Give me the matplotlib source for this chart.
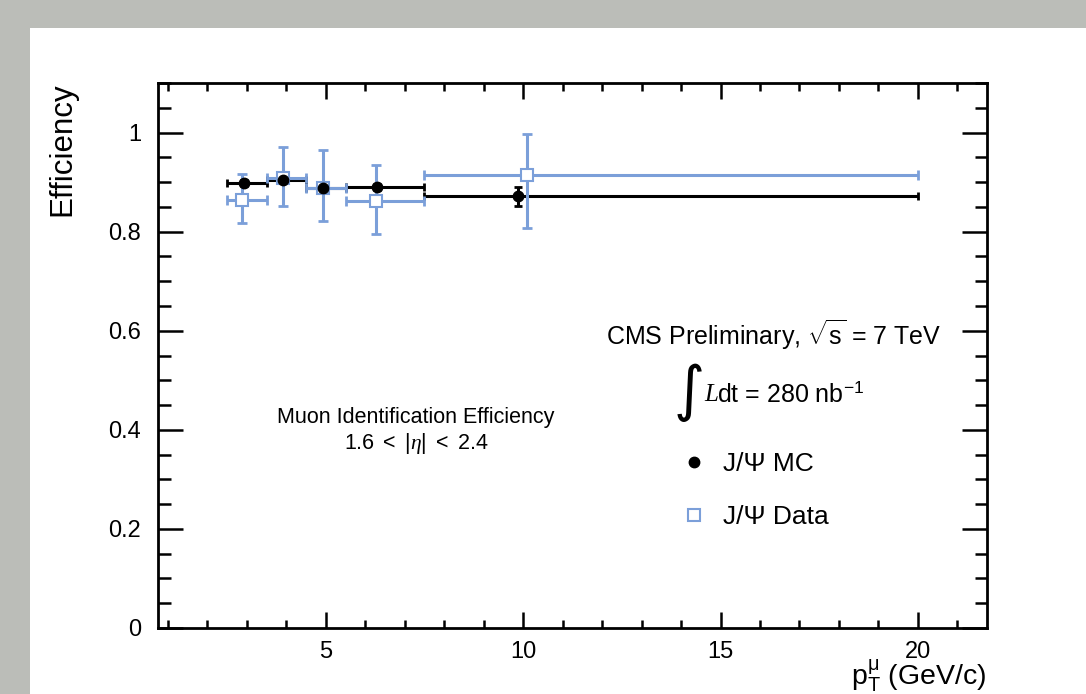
import numpy as np
import matplotlib.pyplot as plt
from matplotlib.lines import Line2D
from matplotlib.patches import Rectangle
from matplotlib.ticker import MultipleLocator

plt.rcParams['font.family'] = ['Liberation Sans', 'DejaVu Sans']
plt.rcParams['mathtext.fontset'] = 'custom'
plt.rcParams['mathtext.rm'] = 'Liberation Sans'
plt.rcParams['mathtext.it'] = 'Liberation Serif:italic'
plt.rcParams['mathtext.bf'] = 'Liberation Sans:bold'

# pT bins (GeV/c)
bin_lo = [2.5, 3.5, 4.5, 5.5, 7.5]
bin_hi = [3.5, 4.5, 5.5, 7.5, 20.0]

# J/psi MC
mc_pt = [2.93, 3.92, 4.93, 6.31, 9.88]
mc_eff = [0.898, 0.904, 0.889, 0.891, 0.871]
mc_err_lo = [0.006, 0.006, 0.006, 0.006, 0.019]
mc_err_hi = [0.006, 0.006, 0.006, 0.006, 0.019]

# J/psi data
data_pt = [2.88, 3.92, 4.93, 6.28, 10.09]
data_eff = [0.864, 0.908, 0.889, 0.862, 0.914]
data_err_lo = [0.046, 0.056, 0.067, 0.066, 0.106]
data_err_hi = [0.052, 0.062, 0.076, 0.073, 0.084]

blue = '#7b9fd9'

fig = plt.figure(figsize=(10.86, 6.94), dpi=100, facecolor='#bbbdb8')
fig.patches.append(Rectangle((30 / 1086, 0), 1, 1 - 28 / 694, transform=fig.transFigure,
                             facecolor='white', edgecolor='none', zorder=-10))

W, H = 1086, 694
ax = fig.add_axes([158 / W, 1 - 628 / H, (987 - 158) / W, (628 - 83) / H])
ax.set_facecolor('none')
ax.set_xlim(0.75, 21.75)
ax.set_ylim(0, 1.1)

mc_pt = np.array(mc_pt)
data_pt = np.array(data_pt)
lo = np.array(bin_lo)
hi = np.array(bin_hi)

ax.errorbar(mc_pt, mc_eff, xerr=[mc_pt - lo, hi - mc_pt], yerr=[mc_err_lo, mc_err_hi],
            fmt='none', ecolor='black', elinewidth=2.2, capsize=3, capthick=2, zorder=2)
ax.errorbar(data_pt, data_eff, xerr=[data_pt - lo, hi - data_pt], yerr=[data_err_lo, data_err_hi],
            fmt='none', ecolor=blue, elinewidth=2.2, capsize=3.5, capthick=2, zorder=3)
ax.plot(data_pt, data_eff, ls='none', marker='s', ms=8.5, mfc='white', mec=blue, mew=1.5, zorder=4)
ax.plot(mc_pt, mc_eff, ls='none', marker='o', ms=7.5, color='black', zorder=5)

for s in ax.spines.values():
    s.set_linewidth(2)
ax.xaxis.set_major_locator(MultipleLocator(5))
ax.xaxis.set_minor_locator(MultipleLocator(1))
ax.yaxis.set_major_locator(MultipleLocator(0.2))
ax.yaxis.set_minor_locator(MultipleLocator(0.05))
ax.tick_params(axis='x', which='major', direction='in', length=11.5, width=1.8, top=True,
               labelsize=17, pad=9)
ax.tick_params(axis='x', which='minor', direction='in', length=5.8, width=1.8, top=True)
ax.tick_params(axis='y', which='major', direction='in', length=18, width=1.8, right=True,
               labelsize=17, pad=12)
ax.tick_params(axis='y', which='minor', direction='in', length=9, width=1.8, right=True)
ax.set_yticks([0, 0.2, 0.4, 0.6, 0.8, 1.0])
ax.set_yticklabels(['0', '0.2', '0.4', '0.6', '0.8', '1'])

fig.text(62 / W, 1 - 82 / H, 'Efficiency', rotation=90, ha='center', va='top', fontsize=22.5)
fig.text(986 / W, 1 - 676 / H, r'p$_{\mathrm{T}}^{\mathrm{\mu}}$ (GeV/c)', ha='right',
         va='center', fontsize=20.5)

fig.text(774 / W, 1 - 335 / H, r'CMS Preliminary, $\sqrt{\mathrm{s}}$ = 7 TeV', ha='center',
         va='center', fontsize=18)
fig.text(689 / W, 1 - 392 / H, '\u222b', ha='center', va='center', fontsize=43,
         family='DejaVu Sans')
fig.text(704 / W, 1 - 395 / H, 'L', ha='left', va='center', fontsize=18,
         family='Liberation Serif', style='italic')
fig.text(717 / W, 1 - 395 / H, r'dt = 280 nb$^{\mathrm{-1}}$', ha='left', va='center', fontsize=18)

fig.text(416 / W, 1 - 418 / H, 'Muon Identification Efficiency', ha='center', va='center',
         fontsize=15.5)
fig.text(416 / W, 1 - 444 / H, r'1.6 $<$ $|\eta|$ $<$ 2.4', ha='center', va='center',
         fontsize=15.5)

handles = [Line2D([], [], ls='none', marker='o', ms=7.5, color='black'),
           Line2D([], [], ls='none', marker='s', ms=8.5, mfc='white', mec=blue, mew=1.5)]
ax.legend(handles, ['J/\u03a8 MC', 'J/\u03a8 Data'], loc='upper left',
          bbox_to_anchor=((681 - 158) / (987 - 158), (628 - 452) / (628 - 83)),
          frameon=False, fontsize=19, handlelength=1.0, handletextpad=0.6,
          labelspacing=1.1, borderpad=0, borderaxespad=0)

fig.savefig('out.png', dpi=100, facecolor=fig.get_facecolor())
